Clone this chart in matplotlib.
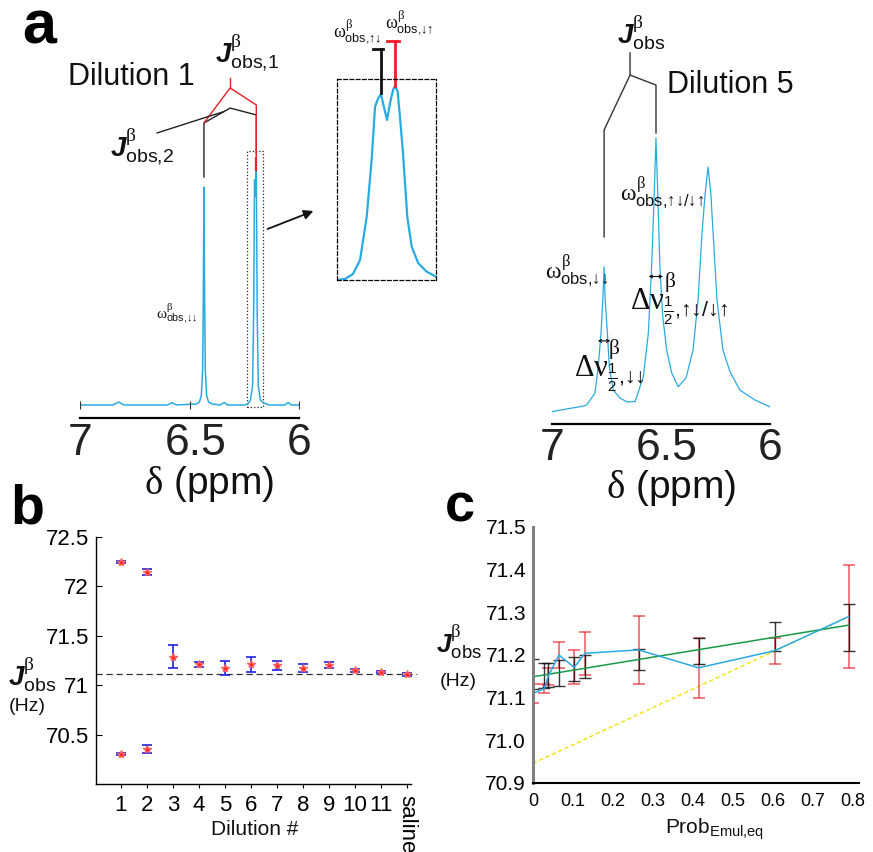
import numpy as np
import matplotlib
matplotlib.use("Agg")
import matplotlib.pyplot as plt
import matplotlib.transforms as mtransforms
from matplotlib.patches import Rectangle

plt.rcParams["font.family"] = ["Liberation Sans", "DejaVu Sans"]
plt.rcParams["mathtext.fontset"] = "custom"
plt.rcParams["mathtext.rm"] = "Liberation Sans"
plt.rcParams["mathtext.it"] = "Liberation Serif"
plt.rcParams["mathtext.sf"] = "Liberation Serif"
plt.rcParams["mathtext.bf"] = "Liberation Sans:bold:italic"

# ---- spectra: chemical shift (ppm) and normalised intensity ----
d1_ppm = [7.000, 6.850, 6.822, 6.800, 6.600, 6.580, 6.560, 6.470, 6.455, 6.446,
          6.440, 6.437, 6.434, 6.431, 6.428, 6.422, 6.413, 6.395, 6.360, 6.342,
          6.325, 6.245, 6.232, 6.222, 6.212, 6.207, 6.203, 6.199, 6.195, 6.191,
          6.186, 6.176, 6.160, 6.135, 6.065, 6.050, 6.035, 6.000]
d1_int = [0.0, 0.0, 0.012, 0.0, 0.0, 0.010, 0.0, 0.004, 0.012, 0.04,
          0.15, 0.45, 0.92, 0.45, 0.15, 0.04, 0.012, 0.004, 0.0, 0.010,
          0.0, 0.0, 0.006, 0.02, 0.08, 0.40, 0.95, 0.88, 1.0, 0.40,
          0.08, 0.02, 0.008, 0.0, 0.0, 0.010, 0.0, 0.0]

zoom_ppm = [6.2343, 6.2293, 6.2237, 6.2187, 6.2140, 6.2105, 6.2081, 6.2060, 6.2039,
            6.2025, 6.1996, 6.1975, 6.1954, 6.1940, 6.1921, 6.1905, 6.1885, 6.1869,
            6.1853, 6.1822, 6.1775, 6.1716, 6.1650]
zoom_int = [0.0, 0.005, 0.031, 0.103, 0.326, 0.619, 0.893, 0.935, 0.959,
            0.912, 0.825, 0.912, 0.979, 1.0, 0.971, 0.842, 0.670, 0.5,
            0.326, 0.172, 0.086, 0.043, 0.017]

d5_ppm = [7.000, 6.917, 6.856, 6.841, 6.803, 6.788, 6.775, 6.767, 6.761, 6.756,
          6.746, 6.737, 6.719, 6.688, 6.657, 6.619, 6.581, 6.558, 6.543, 6.532,
          6.523, 6.514, 6.505, 6.492, 6.474, 6.451, 6.421, 6.385, 6.353, 6.330,
          6.312, 6.298, 6.284, 6.271, 6.261, 6.243, 6.216, 6.183, 6.138, 6.069, 6.000]
d5_int = [0.012, 0.024, 0.032, 0.036, 0.079, 0.174, 0.296, 0.415, 0.535, 0.415,
          0.296, 0.174, 0.090, 0.061, 0.048, 0.048, 0.138, 0.296, 0.535, 0.776,
          1.0, 0.776, 0.535, 0.355, 0.235, 0.152, 0.102, 0.134, 0.235, 0.415,
          0.657, 0.794, 0.895, 0.794, 0.657, 0.415, 0.235, 0.155, 0.090, 0.054, 0.029]

ppm_ticks = [7, 6.5, 6]
ppm_labels = ["7", "6.5", "6"]

# ---- J_obs vs dilution ----
dilution = [1, 2, 3, 4, 5, 6, 7, 8, 9, 10, 11, 12]
dilution_labels = ["1", "2", "3", "4", "5", "6", "7", "8", "9", "10", "11", "saline"]
j_obs = [72.25, 72.15, 71.29, 71.21, 71.17, 71.21, 71.20, 71.17, 71.20, 71.15, 71.13, 71.11]
j_obs_err = [0.01, 0.03, 0.12, 0.025, 0.07, 0.08, 0.05, 0.04, 0.03, 0.015, 0.01, 0.015]
j_split = [70.30, 70.35]
j_split_err = [0.01, 0.04]
j_saline = 71.11

# ---- J_obs vs emulsion probability ----
prob = [0, 0.028, 0.038, 0.065, 0.103, 0.130, 0.264, 0.414, 0.604, 0.789]
j_meas = [71.110, 71.121, 71.150, 71.200, 71.171, 71.204, 71.212, 71.170, 71.210, 71.290]
j_meas_err = [0.022, 0.010, 0.020, 0.030, 0.040, 0.050, 0.080, 0.070, 0.030, 0.120]
j_fit = [71.155, 71.152, 71.153, 71.158, 71.168, 71.173, 71.190, 71.210, 71.244, 71.265]
j_fit_err = [0.035, 0.030, 0.029, 0.030, 0.028, 0.027, 0.024, 0.030, 0.034, 0.055]
fit_line_x = [0, 0.789]
fit_line_j = [71.149, 71.270]
extrap_x = [0, 0.789]
extrap_j = [70.946, 71.290]

BLUE = "#29abe2"
RED = "#e8202a"
INK = "#111111"
W, H = 873, 852
fig = plt.figure(figsize=(W / 100, H / 100), dpi=100)


def box(l, t, r, b):
    return fig.add_axes([l / W, 1 - b / H, (r - l) / W, (b - t) / H])


def spectrum(ax, ppm, inten, lw, ylim, pad):
    ax.plot(ppm, inten, color=BLUE, lw=lw)
    ax.set_xlim(7, 6)
    ax.set_ylim(*ylim)
    for s in ("top", "right", "left"):
        ax.spines[s].set_visible(False)
    ax.spines["bottom"].set_linewidth(1.6)
    ax.set_yticks([])
    ax.set_xticks(ppm_ticks)
    ax.set_xticklabels(ppm_labels, fontsize=32, color="#222222")
    ax.tick_params(axis="x", length=0, pad=pad)
    # the middle label sits a little right of its tick
    mid_lab = ax.get_xticklabels()[1]
    mid_lab.set_transform(mid_lab.get_transform() +
                          mtransforms.ScaledTranslation(6 / 100, 0, fig.dpi_scale_trans))
    ax.patch.set_alpha(0)


def peak_at(ppm, inten, lo, hi):
    ppm = np.asarray(ppm)
    inten = np.asarray(inten)
    sel = np.where((ppm <= lo) & (ppm >= hi))[0]
    i = sel[np.argmax(inten[sel])]
    return i, ppm[i], inten[i]


def half_width(ppm, inten, ip, lo, hi):
    ppm = np.asarray(ppm)
    inten = np.asarray(inten)
    h = inten[ip] / 2
    left = np.interp(h, inten[lo:ip + 1], ppm[lo:ip + 1])
    right = np.interp(h, inten[ip:hi + 1][::-1], ppm[ip:hi + 1][::-1])
    return left, right, h


# ---------------- panel a: dilution 1 ----------------
ax1 = box(80, 150, 299, 418)
spectrum(ax1, d1_ppm, d1_int, 1.1, (-0.055, 1.076), 3.6)
ax1.plot(ppm_ticks, [0, 0, 0], ls="none", marker="|", ms=6, mew=0.8, color="#333333")
_, p1, _ = peak_at(d1_ppm, d1_int, 7.0, 6.3)
_, p2, _ = peak_at(d1_ppm, d1_int, 6.3, 6.0)
mid = (p1 + p2) / 2
ax1.plot([p1, p1, mid, p2, p2], [0.962, 1.19, 1.253, 1.224, 1.06],
         color="#222222", lw=1.0, clip_on=False)
ax1.plot([mid, mid], [1.38, 1.338], color=RED, lw=1.0, clip_on=False)
ax1.plot([p1, mid, p2, p2], [1.19, 1.338, 1.266, 1.042], color=RED, lw=1.0, clip_on=False)
ax1.plot([6.648, p1 + 0.77 * (mid - p1)], [1.148, 1.19 + 0.77 * 0.063],
         color="#222222", lw=1.0, clip_on=False)
ax1.plot([p2, p2], [1.042, 0.99], color=RED, lw=1.6, clip_on=False)
ax1.add_patch(Rectangle((zoom_ppm[0] + 0.0013, -0.008), zoom_ppm[-1] - zoom_ppm[0] - 0.002, 1.08,
                        fill=False, ls=":", lw=0.9, ec="#222222", clip_on=False))

# zoomed doublet
axz = box(337, 79, 436, 280)
axz.plot(zoom_ppm, zoom_int, color=BLUE, lw=1.6)
axz.set_xlim(6.235, 6.165)
axz.set_ylim(0, 1.036)
axz.set_xticks([])
axz.set_yticks([])
for s in axz.spines.values():
    s.set_linestyle((0, (3, 2)))
    s.set_linewidth(0.9)
zi1, zp1, zh1 = peak_at(zoom_ppm, zoom_int, 6.24, 6.199)
zi2, zp2, zh2 = peak_at(zoom_ppm, zoom_int, 6.199, 6.16)
axz.plot([zp1, zp1], [zh1 + 0.005, 1.19], color=INK, lw=2.0, clip_on=False)
axz.plot([zp1 + 0.0055, zp1 - 0.0015], [1.19, 1.19], color=INK, lw=2.0, clip_on=False)
axz.plot([zp2, zp2], [zh2, 1.232], color=RED, lw=2.0, clip_on=False)
axz.plot([zp2 + 0.006, zp2 - 0.0025], [1.232, 1.232], color=RED, lw=2.0, clip_on=False)

# ---------------- panel a: dilution 5 ----------------
ax5 = box(552, 100, 770, 424)
spectrum(ax5, d5_ppm, d5_int, 0.9, (-0.0325, 1.137), 3.0)
i1, q1, h1 = peak_at(d5_ppm, d5_int, 7.0, 6.65)
i2, q2, h2 = peak_at(d5_ppm, d5_int, 6.65, 6.40)
qm = (q1 + q2) / 2
ax5.plot([q1, q1, qm, qm], [0.643, 1.029, 1.227, 1.307], color="#333333", lw=1.0, clip_on=False)
ax5.plot([qm, q2, q2], [1.227, 1.191, 1.018], color="#333333", lw=1.0, clip_on=False)
for ip, lo, hi in ((i1, 3, 14), (i2, 15, 26)):
    left, right, h = half_width(d5_ppm, d5_int, ip, lo, hi)
    ax5.annotate("", xy=(left + 0.012, h), xytext=(right - 0.012, h),
                 arrowprops=dict(arrowstyle="<->", lw=0.8, color=INK,
                                 mutation_scale=5, shrinkA=0, shrinkB=0))

# ---------------- panel b ----------------
axb = box(96, 537, 411, 784)
axb.axhline(j_saline, color="#333333", lw=0.9, ls=(0, (5, 3)), xmax=1.02, clip_on=False)
axb.errorbar(dilution, j_obs, yerr=j_obs_err, fmt="none", ecolor="#2323e0",
             elinewidth=1.2, capsize=3.5, capthick=1.2)
axb.errorbar(dilution[:2], j_split, yerr=j_split_err, fmt="none", ecolor="#2323e0",
             elinewidth=1.2, capsize=3.5, capthick=1.2)
axb.plot(dilution, j_obs, ls="none", marker="*", ms=6, color="#ff2020", mec="#ff6060")
axb.plot(dilution[:2], j_split, ls="none", marker="*", ms=6, color="#ff2020", mec="#ff6060")
axb.set_xlim(0.04, 12.15)
axb.set_ylim(70.0, 72.5)
axb.set_yticks([70.5, 71, 71.5, 72, 72.5])
axb.set_yticklabels(["70.5", "71", "71.5", "72", "72.5"], fontsize=16)
axb.set_xticks(dilution)
axb.set_xticklabels(dilution_labels, fontsize=16)
axb.get_xticklabels()[-1].set_rotation(-90)
axb.tick_params(axis="y", direction="in", length=4, pad=5)
axb.tick_params(axis="x", direction="out", length=3, pad=5)
for s in ("top", "right"):
    axb.spines[s].set_visible(False)
for s in ("left", "bottom"):
    axb.spines[s].set_linewidth(1.0)
axb.patch.set_alpha(0)

# ---------------- panel c ----------------
axc = box(533, 527, 859, 783)
axc.plot(extrap_x, extrap_j, color="#f2e200", lw=1.0, ls=(0, (3, 2)))
axc.errorbar(prob, j_meas, yerr=j_meas_err, fmt="none", ecolor=RED, alpha=0.75,
             elinewidth=1.1, capsize=4, capthick=1.1)
axc.errorbar(prob, j_fit, yerr=j_fit_err, fmt="none", ecolor=INK, alpha=0.85,
             elinewidth=1.0, capsize=4, capthick=1.0)
axc.plot(fit_line_x, fit_line_j, color="#1a9a48", lw=1.1)
axc.plot(prob, j_meas, color=BLUE, lw=1.1)
axc.set_xlim(0, 0.815)
axc.set_ylim(70.9, 71.5)
axc.set_yticks([70.9, 71.0, 71.1, 71.2, 71.3, 71.4, 71.5])
axc.set_yticklabels(["70.9", "71.0", "71.1", "71.2", "71.3", "71.4", "71.5"], fontsize=15)
axc.set_xticks([0, 0.1, 0.2, 0.3, 0.4, 0.5, 0.6, 0.7, 0.8])
axc.set_xticklabels(["0", "0.1", "0.2", "0.3", "0.4", "0.5", "0.6", "0.7", "0.8"], fontsize=13)
axc.tick_params(axis="both", length=0)
axc.tick_params(axis="y", pad=5)
axc.tick_params(axis="x", pad=7)
for s in ("top", "right"):
    axc.spines[s].set_visible(False)
axc.spines["left"].set_color("#808080")
axc.spines["left"].set_linewidth(2.2)
axc.spines["bottom"].set_linewidth(1.5)
axc.patch.set_alpha(0)

# ---------------- labels (overlay in pixel units) ----------------
ov = fig.add_axes([0, 0, 1, 1], zorder=5)
ov.set_xlim(0, W)
ov.set_ylim(H, 0)
ov.axis("off")


def put(x, y, s, size, **kw):
    kw.setdefault("ha", "left")
    kw.setdefault("va", "baseline")
    kw.setdefault("color", INK)
    return ov.text(x, y, s, fontsize=size, **kw)


# {,} keeps mathtext from padding the comma; literal arrows avoid relation spacing
J_OBS = r"$\mathbf{J}^{\beta}_{\mathrm{obs%s}}$"
OMEGA = r"$\omega^{\beta}_{\mathrm{obs{,}%s}}$"
DNU = r"$\mathsf{\Delta}\nu^{\beta}_{\frac{\mathit{1}}{\mathit{2}}\mathrm{{,}%s}}$"

put(22, 43, "a", 44, weight="bold", color="black")
put(10, 523, "b", 40, weight="bold", color="black")
put(445, 522, "c", 39, weight="bold", color="black")

put(68, 85, "Dilution 1", 22)
put(667, 93, "Dilution 5", 22)
put(215, 63, J_OBS % "{,}1", 20)
put(110, 157, J_OBS % "{,}2", 20)
put(617, 43, J_OBS % "", 20)

put(156, 319, OMEGA % "↓↓", 11)
put(333, 38, OMEGA % "↑↓", 13)
put(385, 29, OMEGA % "↓↑", 13)
put(620, 202, OMEGA % "↑↓/↓↑", 17)
put(545, 280, OMEGA % "↓↓", 17)
put(630, 310, DNU % "↑↓/↓↑", 22)
put(574, 377, DNU % "↓↓", 22)

put(209, 494, r"$\delta$ (ppm)", 28, ha="center")
put(671, 498, r"$\delta$ (ppm)", 28, ha="center")
ov.annotate("", xy=(316, 210), xytext=(265, 230),
            arrowprops=dict(arrowstyle="-|>", lw=1.3, color=INK, mutation_scale=14))

put(8, 685, J_OBS % "", 20)
put(27, 711, "(Hz)", 14, ha="center")
put(436, 653, J_OBS % "", 19)
put(458, 686, "(Hz)", 14, ha="center")
put(255, 835, "Dilution #", 15, ha="center")
put(665, 834, r"$\mathrm{Prob}_{\mathrm{Emul{,}eq}}$", 15)

fig.savefig("out.png", dpi=100)
